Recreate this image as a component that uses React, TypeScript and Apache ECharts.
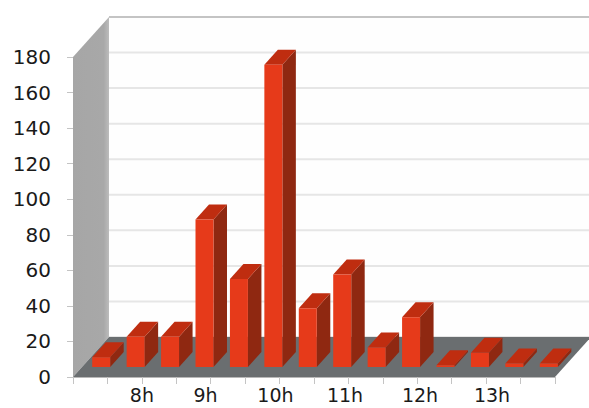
import React, { useEffect, useRef } from "react";
import * as echarts from "echarts";

const hourLabels = ["8h", "9h", "10h", "11h", "12h", "13h"];
const hourLabelPositions = [2, 3.85, 5.88, 7.9, 10.08, 12.17];
const slotTicks = [0, 1, 2, 3, 4, 5, 6, 7, 8, 9, 10, 11, 12, 13, 14];
const yTicks = [0, 20, 40, 60, 80, 100, 120, 140, 160, 180];
const barSlots = [0.5, 1.5, 2.5, 3.5, 4.5, 5.5, 6.5, 7.5, 8.5, 9.5, 10.5, 11.5, 12.5, 13.5];
const barValues = [5.5, 17, 17, 83, 49.5, 170, 33, 52, 11, 28, 1, 8, 2, 2];

const W = 589;
const H = 408;
const DEPTH_X = 36;
const DEPTH_Y = 40;
const FRONT_X = 11;
const FRONT_Y = 10;
const BAR_HALF = 9;
const BAR_DX = 13.5;
const BAR_DY = 15;

const poly = (points: number[][], fill: any) => ({
  type: "polygon",
  shape: { points },
  style: { fill, stroke: null },
  silent: true,
});

function renderFrame(_p: any, api: any) {
  const o = api.coord([0, 0]);
  const t = api.coord([0, 180]);
  const r = api.coord([14, 0]);
  const wallRight = W + 2;
  const children: any[] = [];
  children.push(poly([[o[0] + DEPTH_X, t[1] - DEPTH_Y], [wallRight, t[1] - DEPTH_Y], [wallRight, o[1] - DEPTH_Y], [o[0] + DEPTH_X, o[1] - DEPTH_Y]], "#fefefe"));
  yTicks.forEach((v) => {
    const c = api.coord([0, v]);
    const y = c[1] - DEPTH_Y;
    children.push({
      type: "line",
      shape: { x1: o[0] + DEPTH_X, y1: y, x2: wallRight, y2: y },
      style: { stroke: v === 180 ? "#c4c4c4" : "#e6e6e6", lineWidth: 2 },
      silent: true,
    });
  });
  children.push(
    poly(
      [[o[0], o[1]], [o[0] + DEPTH_X, o[1] - DEPTH_Y], [o[0] + DEPTH_X, t[1] - DEPTH_Y], [o[0], t[1]]],
      new echarts.graphic.LinearGradient(0, 0, 1, 0, [
        { offset: 0, color: "#a6a6a6" },
        { offset: 0.85, color: "#a8a8a8" },
        { offset: 1, color: "#bcbcbc" },
      ])
    )
  );
  children.push(poly([[o[0], o[1]], [r[0], r[1]], [r[0] + DEPTH_X, r[1] - DEPTH_Y], [o[0] + DEPTH_X, o[1] - DEPTH_Y]], "#6a6e70"));
  return { type: "group", children };
}

function renderBar(_p: any, api: any) {
  const base = api.coord([api.value(0), 0]);
  const top = api.coord([api.value(0), api.value(1)]);
  const xl = base[0] + FRONT_X - BAR_HALF;
  const xr = base[0] + FRONT_X + BAR_HALF;
  const yb = base[1] - FRONT_Y;
  const yt = top[1] - FRONT_Y;
  return {
    type: "group",
    children: [
      poly([[xr, yb], [xr + BAR_DX, yb - BAR_DY], [xr + BAR_DX, yt - BAR_DY], [xr, yt]], "#8f2811"),
      poly([[xl, yt], [xr, yt], [xr + BAR_DX, yt - BAR_DY], [xl + BAR_DX, yt - BAR_DY]], "#bf2d10"),
      poly([[xl, yb], [xr, yb], [xr, yt], [xl, yt]], "#e63a1a"),
    ],
  };
}

export default function App() {
  const ref = useRef<HTMLDivElement>(null);
  useEffect(() => {
    document.body.style.margin = "0";
    const chart = echarts.init(ref.current!, null, { renderer: "svg" });
    const labelFont = { fontFamily: "DejaVu Sans", fontSize: 20, color: "#1a1a1a" };
    chart.setOption({
      animation: false,
      backgroundColor: "#ffffff",
      grid: { left: 73, top: 57, width: 482, height: 320, containLabel: false },
      xAxis: {
        type: "value",
        min: 0,
        max: 14,
        interval: 1,
        splitLine: { show: false },
        axisLine: { show: true, lineStyle: { color: "#b8b8b8", width: 1 } },
        axisTick: { show: true, length: 7, lineStyle: { color: "#c4c4c4" }, customValues: slotTicks },
        axisLabel: {
          ...labelFont,
          fontSize: 19,
          lineHeight: 16,
          margin: 10,
          customValues: hourLabelPositions,
          formatter: (v: number) => hourLabels[hourLabelPositions.indexOf(v)] ?? "",
        },
      },
      yAxis: {
        type: "value",
        min: 0,
        max: 180,
        interval: 20,
        splitLine: { show: false },
        axisLine: { show: false },
        axisTick: { show: true, length: 6, lineStyle: { color: "#c4c4c4" } },
        axisLabel: { ...labelFont, margin: 22 },
      },
      series: [
        { type: "custom", clip: false, silent: true, data: [[0, 0]], renderItem: renderFrame, z: 1 },
        {
          type: "custom",
          clip: false,
          silent: true,
          data: barSlots.map((s, i) => [s, barValues[i]]),
          encode: { x: 0, y: 1 },
          renderItem: renderBar,
          z: 2,
        },
      ],
    });
    return () => chart.dispose();
  }, []);
  return <div ref={ref} style={{ width: W, height: H }} />;
}
